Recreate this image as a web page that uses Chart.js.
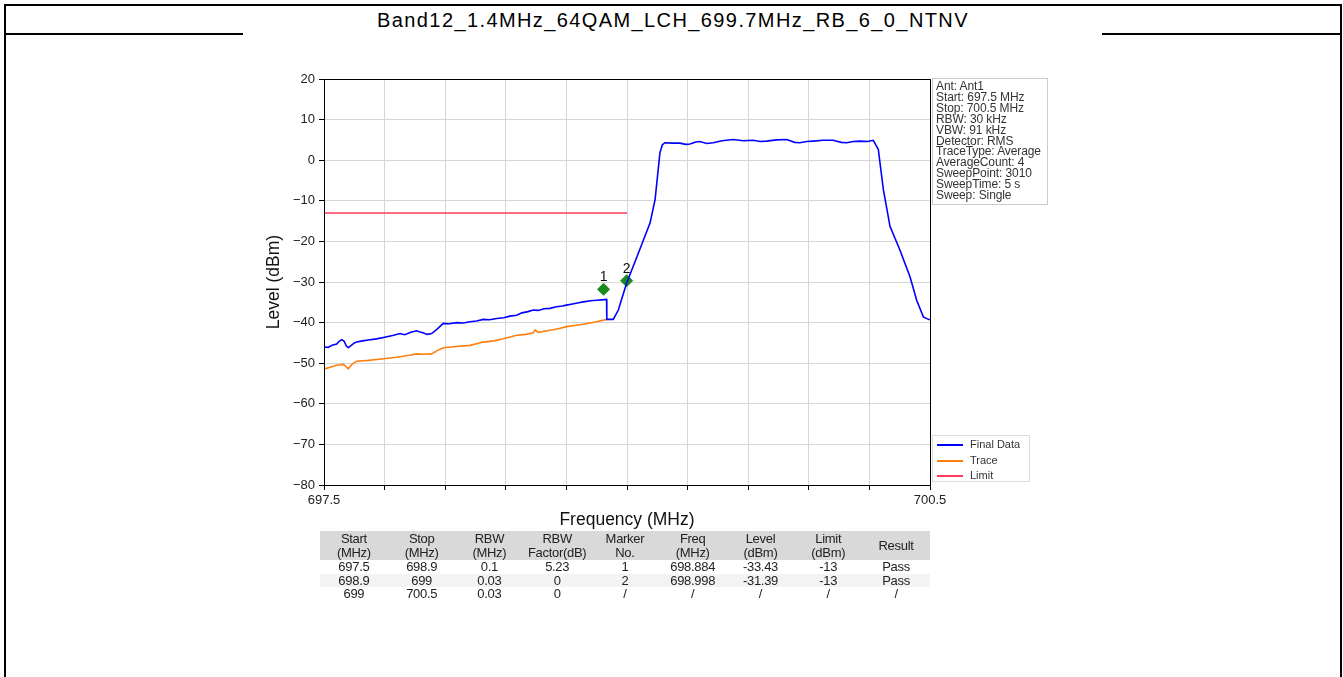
<!DOCTYPE html>
<html>
<head>
<meta charset="utf-8">
<script src="https://cdn.jsdelivr.net/npm/chart.js@4.4.1/dist/chart.umd.min.js"></script>
<style>
  body { margin: 0; width: 1343px; height: 677px; position: relative; overflow: hidden; background: #fff;
         font-family: "Liberation Sans", Arial, sans-serif; }
  #frame { position: absolute; left: 4px; top: 4px; width: 1334px; height: 700px;
           border: 2px solid #000; border-bottom: none; }
  #title { position: absolute; left: 6px; top: 6px; width: 1334px; height: 27px; line-height: 28px;
           text-align: center; font-size: 20px; letter-spacing: 1.4px; color: #000; }
  .hline { position: absolute; top: 33px; height: 2px; background: #000; }
  #chart { position: absolute; left: 0; top: 0; }
  #info { position: absolute; left: 932px; top: 78px; width: 116px; height: 127px; border: 1px solid #ccc;
          font-size: 12px; line-height: 10.9px; color: #333; padding: 2px 0 0 3px; box-sizing: border-box;
          letter-spacing: -0.1px; white-space: nowrap; }
  #legend { position: absolute; left: 932px; top: 435px; width: 98px; height: 47px; border: 1px solid #ddd;
            font-size: 11px; color: #333; box-sizing: border-box; }
  #legend div { position: absolute; left: 4px; height: 12px; line-height: 12px; }
  #legend span { display: inline-block; width: 26px; height: 2px; vertical-align: middle; margin-right: 7px; }
  #tbl { position: absolute; left: 320px; top: 531px; width: 610px; border-collapse: collapse;
         font-size: 13px; color: #222; letter-spacing: -0.3px; }
  #tbl td { text-align: center; padding: 0; width: 11.1%; }
  #tbl tr.head td { background: #d9d9d9; line-height: 14px; height: 29px; }
  #tbl tr.row td { line-height: 13.5px; }
  #tbl tr.alt td { background: #f3f3f3; }
</style>
</head>
<body>
<div id="frame"></div>
<div id="title">Band12_1.4MHz_64QAM_LCH_699.7MHz_RB_6_0_NTNV</div>
<div class="hline" style="left:4px;width:239px"></div>
<div class="hline" style="left:1102px;width:240px"></div>
<canvas id="chart" width="1343" height="677"></canvas>
<div id="info"></div>
<div id="legend"></div>
<table id="tbl"></table>
<script>
// spectrum trace data (MHz / dBm)
const finalFreq = [697.500, 697.520, 697.540, 697.563, 697.575, 697.588, 697.600, 697.610, 697.620, 697.635,
  697.650, 697.662, 697.690, 697.720, 697.760, 697.800, 697.840, 697.876, 697.900, 697.930,
  697.959, 697.975, 697.990, 698.010, 698.033, 698.060, 698.090, 698.120, 698.157, 698.190,
  698.223, 698.255, 698.289, 698.320, 698.355, 698.390, 698.420, 698.454, 698.480, 698.510,
  698.536, 698.560, 698.590, 698.619, 698.650, 698.680, 698.700, 698.730, 698.760, 698.784,
  698.820, 698.850, 698.875, 698.899, 698.900, 698.932, 698.957, 698.998, 699.056, 699.114,
  699.139, 699.152, 699.163, 699.175, 699.188, 699.225, 699.262, 699.290, 699.312, 699.340,
  699.361, 699.395, 699.427, 699.470, 699.526, 699.575, 699.625, 699.660, 699.691, 699.740,
  699.791, 699.830, 699.856, 699.890, 699.922, 699.970, 700.021, 700.060, 700.088, 700.120,
  700.153, 700.190, 700.219, 700.244, 700.269, 700.302, 700.351, 700.401, 700.434, 700.467,
  700.492, 700.500];
const finalLevel = [-46.0, -46.1, -45.6, -45.3, -44.6, -44.2, -44.6, -45.7, -46.2, -45.6,
  -45.0, -44.8, -44.5, -44.3, -44.0, -43.6, -43.2, -42.7, -43.0, -42.4,
  -42.0, -42.3, -42.5, -42.9, -42.7, -41.6, -40.2, -40.3, -40.0, -40.1,
  -39.8, -39.6, -39.2, -39.3, -39.0, -38.8, -38.4, -38.2, -37.6, -37.3,
  -36.9, -37.0, -36.6, -36.5, -36.1, -35.9, -35.7, -35.4, -35.1, -34.9,
  -34.6, -34.5, -34.4, -34.3, -39.2, -39.2, -36.9, -30.3, -22.9, -15.5,
  -9.7, -3.5, 1.8, 3.8, 4.3, 4.2, 4.2, 3.9, 4.0, 4.5,
  4.6, 4.1, 4.3, 4.8, 5.1, 4.8, 4.9, 4.6, 4.7, 5.0,
  5.1, 4.4, 4.3, 4.6, 4.7, 4.9, 4.9, 4.4, 4.3, 4.6,
  4.7, 4.6, 4.9, 2.7, -7.2, -16.3, -22.1, -28.7, -34.5, -38.6,
  -39.2, -39.3];

const traceFreq = [697.505, 697.530, 697.563, 697.596, 697.610, 697.620, 697.640, 697.662, 697.720, 697.794,
  697.850, 697.893, 697.930, 697.959, 697.990, 698.033, 698.060, 698.091, 698.157, 698.223,
  698.289, 698.340, 698.388, 698.454, 698.500, 698.536, 698.545, 698.560, 698.619, 698.660,
  698.701, 698.740, 698.784, 698.850, 698.900];
const traceLevel = [-51.4, -51.0, -50.5, -50.3, -50.9, -51.4, -50.2, -49.5, -49.3, -48.9,
  -48.6, -48.3, -48.0, -47.7, -47.8, -47.7, -46.9, -46.2, -45.9, -45.6,
  -44.8, -44.5, -44.0, -43.1, -42.9, -42.5, -41.8, -42.4, -41.9, -41.5,
  -41.0, -40.7, -40.4, -39.8, -39.2];

const limitFreq = [697.5, 699.0];
const limitLevel = [-13, -13];

const markerNo = ['1', '2'];
const markerFreq = [698.884, 698.998];
const markerLevel = [-31.8, -29.7];

const xTicks = [697.5, 697.8, 698.1, 698.4, 698.7, 699.0, 699.3, 699.6, 699.9, 700.2, 700.5];
const yMin = -80, yMax = 20;

const infoLines = ['Ant: Ant1', 'Start: 697.5 MHz', 'Stop: 700.5 MHz', 'RBW: 30 kHz', 'VBW: 91 kHz',
  'Detector: RMS', 'TraceType: Average', 'AverageCount: 4', 'SweepPoint: 3010', 'SweepTime: 5 s', 'Sweep: Single'];

const tableHead = [['Start', '(MHz)'], ['Stop', '(MHz)'], ['RBW', '(MHz)'], ['RBW', 'Factor(dB)'], ['Marker', 'No.'],
  ['Freq', '(MHz)'], ['Level', '(dBm)'], ['Limit', '(dBm)'], ['Result']];
const tableRows = [
  ['697.5', '698.9', '0.1', '5.23', '1', '698.884', '-33.43', '-13', 'Pass'],
  ['698.9', '699', '0.03', '0', '2', '698.998', '-31.39', '-13', 'Pass'],
  ['699', '700.5', '0.03', '0', '/', '/', '/', '/', '/'],
];

const legendItems = [['Final Data', '#0000ff'], ['Trace', '#ff7f0e'], ['Limit', '#ff3b5c']];

const pts = (xs, ys) => xs.map((x, i) => ({x: x, y: ys[i]}));

// side panels
document.getElementById('info').innerHTML = infoLines.map(l => `<div>${l}</div>`).join('');
document.getElementById('legend').innerHTML = legendItems.map((it, i) =>
  `<div style="top:${2 + i * 15.5}px"><span style="background:${it[1]}"></span>${it[0]}</div>`).join('');
document.getElementById('tbl').innerHTML =
  '<tr class="head">' + tableHead.map(h => `<td>${h.join('<br>')}</td>`).join('') + '</tr>' +
  tableRows.map((r, i) => `<tr class="row${i === 1 ? ' alt' : ''}">` + r.map(c => `<td>${c}</td>`).join('') + '</tr>').join('');

// box around the plot and marker numbers
const framePlugin = {
  id: 'frame',
  afterDatasetsDraw(chart) {
    const {ctx, chartArea: a} = chart;
    ctx.save();
    ctx.strokeStyle = '#000';
    ctx.lineWidth = 1;
    ctx.strokeRect(a.left + 0.5, a.top + 0.5, a.right - a.left, a.bottom - a.top);
    const meta = chart.getDatasetMeta(3);
    ctx.fillStyle = '#111';
    ctx.font = '14px "Liberation Sans", Arial';
    ctx.textAlign = 'center';
    ctx.textBaseline = 'bottom';
    meta.data.forEach((p, i) => ctx.fillText(markerNo[i], p.x, p.y - 5));
    ctx.restore();
  }
};

Chart.defaults.font.family = '"Liberation Sans", Arial, sans-serif';
Chart.defaults.color = '#222';

new Chart(document.getElementById('chart'), {
  type: 'line',
  data: {
    datasets: [
      {label: 'Final Data', data: pts(finalFreq, finalLevel), borderColor: '#0000ff', borderWidth: 1.6, pointRadius: 0, tension: 0},
      {label: 'Trace', data: pts(traceFreq, traceLevel), borderColor: '#ff7f0e', borderWidth: 1.6, pointRadius: 0, tension: 0},
      {label: 'Limit', data: pts(limitFreq, limitLevel), borderColor: '#ff3b5c', borderWidth: 1.5, pointRadius: 0},
      {label: 'Markers', data: pts(markerFreq, markerLevel), showLine: false, pointStyle: 'rectRot',
        pointRadius: 6, backgroundColor: '#1a8a1a', borderColor: '#1a8a1a'}
    ]
  },
  options: {
    responsive: false,
    animation: false,
    layout: {autoPadding: false, padding: {left: 264, right: 413, top: 79, bottom: 146}},
    plugins: {legend: {display: false}, tooltip: {enabled: false}},
    scales: {
      x: {
        type: 'linear', min: 697.5, max: 700.5,
        afterBuildTicks: s => { s.ticks = xTicks.map(v => ({value: v})); },
        afterFit: s => { s.height = 46; },
        ticks: {
          autoSkip: false, maxRotation: 0, padding: 3, font: {size: 13},
          callback: (v, i) => (i === 0 || i === xTicks.length - 1) ? String(v) : ''
        },
        grid: {color: '#d6d6d6', tickColor: '#000', tickLength: 5},
        border: {color: '#000'},
        title: {display: true, text: 'Frequency (MHz)', font: {size: 17.5}, color: '#111', padding: {top: 0, bottom: 0}}
      },
      y: {
        min: yMin, max: yMax,
        afterFit: s => { s.width = 60; },
        ticks: {stepSize: 10, padding: 4, font: {size: 13},
          callback: v => String(v).replace('-', '\u2212')},
        grid: {color: '#d6d6d6', tickColor: '#000', tickLength: 5},
        border: {color: '#000'},
        title: {display: true, text: 'Level (dBm)', font: {size: 17.5}, color: '#111', padding: {top: 0, bottom: 0}}
      }
    }
  },
  plugins: [framePlugin]
});
</script>
</body>
</html>
